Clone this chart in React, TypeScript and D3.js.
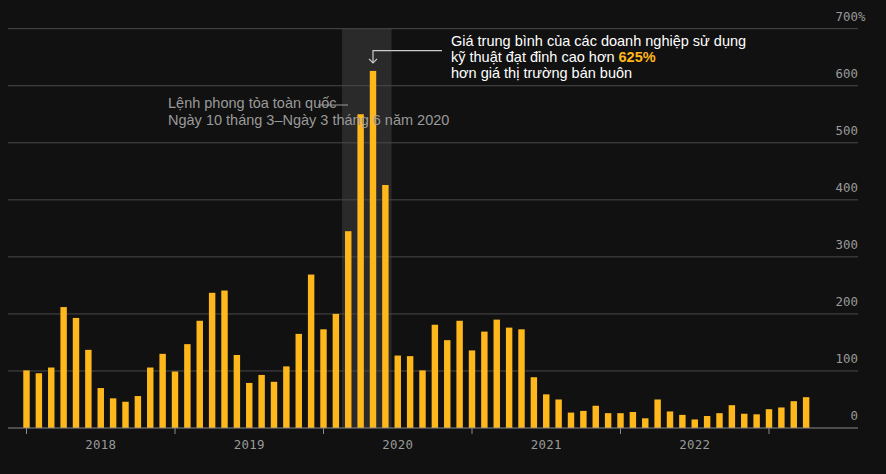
import React from "react";
import * as d3 from "d3";

const years = ["2018", "2019", "2020", "2021", "2022"];
const v2018 = [101, 96, 106, 212, 193, 137, 70, 52, 46, 56, 106, 130];
const v2019 = [99, 147, 188, 237, 241, 128, 79, 93, 81, 108, 165, 269];
const v2020 = [173, 200, 345, 550, 626, 426, 127, 126, 101, 181, 154, 188];
const v2021 = [136, 169, 190, 176, 173, 89, 59, 50, 27, 30, 39, 26];
const v2022 = [26, 28, 17, 50, 29, 23, 15, 21, 26, 40, 25, 24];
const v2023 = [33, 36, 47, 54];
const values = [...v2018, ...v2019, ...v2020, ...v2021, ...v2022, ...v2023];
const months = values.map((_, i) => `${2018 + Math.floor(i / 12)}-${String((i % 12) + 1).padStart(2, "0")}`);
const yTicks = [0, 100, 200, 300, 400, 500, 600, 700];
const lockdownStart = "2020-03";
const lockdownEnd = "2020-06";
const peakMonth = "2020-05";
const lockdownLabel = ["Lệnh phong tỏa toàn quốc", "Ngày 10 tháng 3–Ngày 3 tháng 6 năm 2020"];
const noteLines = ["Giá trung bình của các doanh nghiệp sử dụng", "kỹ thuật đạt đỉnh cao hơn ", "hơn giá thị trường bán buôn"];
const noteHighlight = "625%";

const W = 886;
const H = 474;
const BG = "#111111";
const BAR = "#ffb81c";

export default function App() {
  const step = 12.375;
  const x = d3
    .scaleBand<string>()
    .domain(months)
    .range([26.5 - step / 2, 26.5 - step / 2 + step * months.length])
    .paddingInner(0.48)
    .paddingOuter(0.24);
  const bw = x.bandwidth();
  const cx = (m: string) => (x(m) as number) + bw / 2;
  const y = d3.scaleLinear().domain([0, 700]).range([428, 28.7]);
  const gridL = 8;
  const gridR = 858;
  const mono = "'DejaVu Sans Mono', monospace";
  const sans = "'Liberation Sans', Arial, sans-serif";

  const shadeX0 = cx(lockdownStart) - step / 2;
  const shadeX1 = cx(lockdownEnd) + step / 2;
  const peakX = cx(peakMonth);
  const peakV = values[months.indexOf(peakMonth)];

  return (
    <svg width={W} height={H} style={{ position: "absolute", left: 0, top: 0, display: "block" }}>
      <rect x={0} y={0} width={W} height={H} fill={BG} />
      <rect x={shadeX0} y={y(700)} width={shadeX1 - shadeX0} height={y(0) - y(700)} fill="#2a2a2a" />
      {yTicks.map((t) => (
        <g key={t}>
          {t > 0 && <line x1={gridL} x2={gridR} y1={y(t)} y2={y(t)} stroke="#4a4a4a" strokeWidth={1} />}
          <text x={gridR} y={y(t) - 8} textAnchor="end" fill="#9a9a9a" fontFamily={mono} fontSize={12.4}>
            {t}
          </text>
          {t === 700 && (
            <text x={gridR} y={y(t) - 8} fill="#9a9a9a" fontFamily={mono} fontSize={12.4}>
              %
            </text>
          )}
        </g>
      ))}
      {values.map((v, i) => (
        <rect key={months[i]} x={x(months[i])} y={y(v)} width={bw} height={y(0) - y(v)} fill={BAR} />
      ))}
      <line x1={gridL} x2={gridR} y1={y(0)} y2={y(0)} stroke="#8a8a8a" strokeWidth={1.2} />
      {years.map((yr) => {
        const tx = cx(`${yr}-01`);
        return (
          <g key={yr}>
            <line x1={tx} x2={tx} y1={y(0)} y2={y(0) + 6} stroke="#8a8a8a" strokeWidth={1} />
            <text x={tx + 6 * step} y={449} textAnchor="middle" fill="#9a9a9a" fontFamily={mono} fontSize={12.4} letterSpacing={0.3}>
              {yr}
            </text>
          </g>
        );
      })}
      {(() => {
        const tx = cx("2023-01");
        return <line x1={tx} x2={tx} y1={y(0)} y2={y(0) + 6} stroke="#8a8a8a" strokeWidth={1} />;
      })()}
      {/* lockdown label */}
      <text x={168} y={108} fill="#9a9a9a" fontFamily={sans} fontSize={14.5}>
        {lockdownLabel[0]}
      </text>
      <text x={168} y={125} fill="#9a9a9a" fontFamily={sans} fontSize={14.5}>
        {lockdownLabel[1]}
      </text>
      <line x1={318} x2={348} y1={105} y2={105} stroke="#9a9a9a" strokeWidth={1} />
      {/* peak annotation */}
      <path d={`M${442},${50.7} H${peakX} V${y(peakV) - 8}`} fill="none" stroke="#cccccc" strokeWidth={1.2} />
      <path
        d={`M${peakX - 4},${y(peakV) - 12} L${peakX},${y(peakV) - 8} L${peakX + 4},${y(peakV) - 12}`}
        fill="none"
        stroke="#cccccc"
        strokeWidth={1.2}
      />
      <g fontFamily={sans} fontSize={14.5} fill="#ffffff">
        <text x={451} y={46}>{noteLines[0]}</text>
        <text x={451} y={62}>
          {noteLines[1]}
          <tspan fill={BAR} fontWeight="bold">{noteHighlight}</tspan>
        </text>
        <text x={451} y={77.5}>{noteLines[2]}</text>
      </g>
    </svg>
  );
}
